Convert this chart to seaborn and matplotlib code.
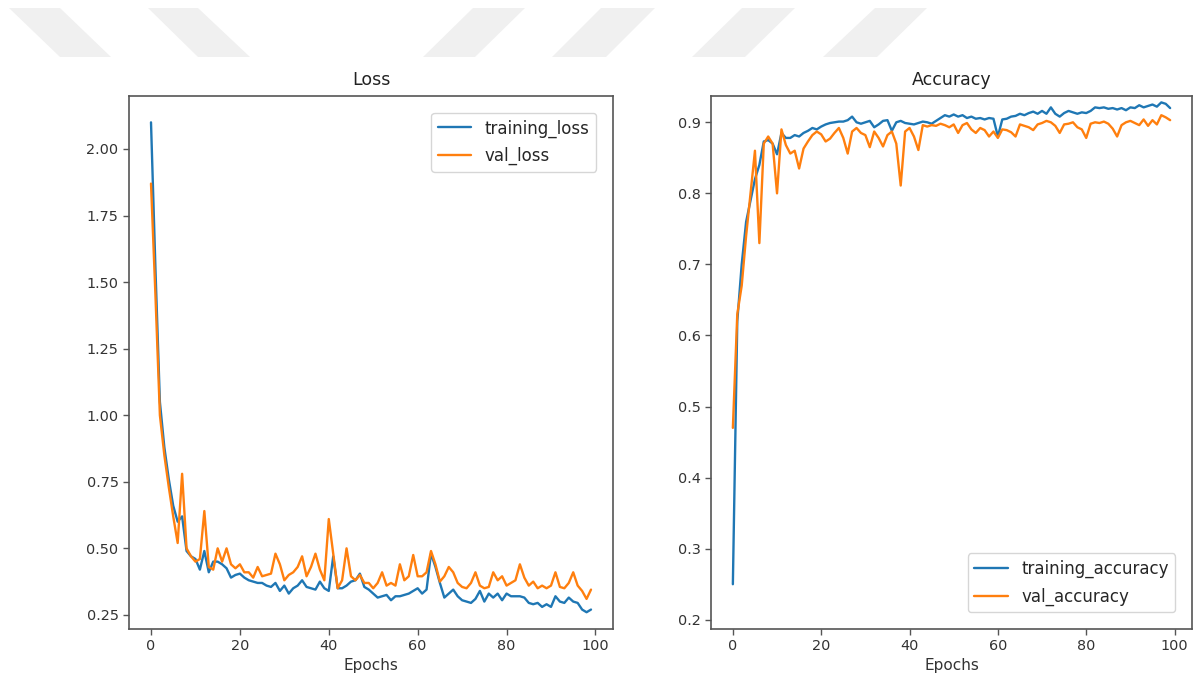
import numpy as np
import pandas as pd
import matplotlib
matplotlib.use("Agg")
import matplotlib.pyplot as plt
from matplotlib.patches import Polygon
import seaborn as sns

epochs = list(range(100))

training_loss = [
    2.10, 1.55, 1.05, 0.88, 0.76, 0.66, 0.60, 0.62, 0.49, 0.47,
    0.46, 0.42, 0.49, 0.41, 0.45, 0.45, 0.44, 0.425, 0.39, 0.40,
    0.405, 0.39, 0.38, 0.375, 0.37, 0.37, 0.36, 0.355, 0.37, 0.34,
    0.36, 0.33, 0.35, 0.36, 0.38, 0.355, 0.35, 0.345, 0.375, 0.35,
    0.34, 0.47, 0.35, 0.35, 0.36, 0.375, 0.38, 0.405, 0.355, 0.345,
    0.33, 0.315, 0.32, 0.325, 0.305, 0.32, 0.32, 0.325, 0.33, 0.34,
    0.35, 0.33, 0.345, 0.48, 0.43, 0.37, 0.315, 0.33, 0.345, 0.32,
    0.305, 0.30, 0.295, 0.31, 0.34, 0.30, 0.33, 0.315, 0.33, 0.305,
    0.33, 0.32, 0.32, 0.32, 0.315, 0.295, 0.29, 0.295, 0.28, 0.29,
    0.28, 0.32, 0.30, 0.295, 0.315, 0.30, 0.295, 0.27, 0.26, 0.27,
]

val_loss = [
    1.87, 1.45, 1.00, 0.85, 0.73, 0.62, 0.52, 0.78, 0.50, 0.47,
    0.45, 0.46, 0.64, 0.43, 0.42, 0.50, 0.45, 0.50, 0.44, 0.425,
    0.44, 0.41, 0.41, 0.39, 0.43, 0.395, 0.40, 0.405, 0.48, 0.44,
    0.38, 0.40, 0.41, 0.43, 0.47, 0.395, 0.43, 0.48, 0.42, 0.38,
    0.61, 0.48, 0.35, 0.38, 0.50, 0.395, 0.38, 0.40, 0.37, 0.37,
    0.35, 0.37, 0.41, 0.36, 0.37, 0.36, 0.44, 0.38, 0.395, 0.475,
    0.395, 0.395, 0.41, 0.49, 0.44, 0.375, 0.395, 0.43, 0.41, 0.37,
    0.355, 0.35, 0.37, 0.41, 0.36, 0.35, 0.355, 0.41, 0.38, 0.395,
    0.36, 0.37, 0.38, 0.44, 0.39, 0.36, 0.375, 0.35, 0.36, 0.35,
    0.36, 0.41, 0.355, 0.35, 0.37, 0.41, 0.36, 0.34, 0.31, 0.345,
]

training_accuracy = [
    0.25, 0.62, 0.70, 0.76, 0.79, 0.82, 0.84, 0.873, 0.875, 0.870,
    0.855, 0.885, 0.878, 0.878, 0.882, 0.880, 0.885, 0.888, 0.892, 0.890,
    0.894, 0.897, 0.899, 0.900, 0.901, 0.901, 0.903, 0.908, 0.900, 0.898,
    0.900, 0.902, 0.893, 0.897, 0.902, 0.903, 0.888, 0.900, 0.902, 0.899,
    0.898, 0.897, 0.899, 0.901, 0.900, 0.898, 0.902, 0.906, 0.910, 0.908,
    0.911, 0.908, 0.910, 0.906, 0.908, 0.905, 0.906, 0.904, 0.906, 0.905,
    0.880, 0.904, 0.905, 0.908, 0.909, 0.912, 0.910, 0.913, 0.915, 0.912,
    0.916, 0.912, 0.921, 0.912, 0.908, 0.913, 0.916, 0.914, 0.912, 0.914,
    0.913, 0.916, 0.921, 0.920, 0.921, 0.919, 0.920, 0.918, 0.920, 0.917,
    0.921, 0.920, 0.924, 0.921, 0.923, 0.925, 0.922, 0.928, 0.926, 0.920,
]

val_accuracy = [
    0.47, 0.63, 0.67, 0.74, 0.80, 0.86, 0.73, 0.87, 0.88, 0.87,
    0.80, 0.89, 0.868, 0.856, 0.86, 0.835, 0.863, 0.873, 0.882, 0.887,
    0.883, 0.873, 0.877, 0.885, 0.892, 0.878, 0.856, 0.887, 0.892, 0.885,
    0.882, 0.865, 0.887, 0.878, 0.866, 0.882, 0.887, 0.870, 0.811, 0.887,
    0.892, 0.880, 0.861, 0.896, 0.894, 0.896, 0.895, 0.898, 0.896, 0.893,
    0.897, 0.885, 0.896, 0.899, 0.890, 0.885, 0.892, 0.889, 0.880, 0.887,
    0.878, 0.890, 0.889, 0.886, 0.880, 0.897, 0.895, 0.893, 0.889, 0.897,
    0.899, 0.902, 0.900, 0.895, 0.885, 0.897, 0.898, 0.900, 0.893, 0.890,
    0.878, 0.898, 0.900, 0.899, 0.901, 0.898, 0.891, 0.880, 0.896, 0.900,
    0.902, 0.899, 0.896, 0.904, 0.895, 0.903, 0.897, 0.910, 0.907, 0.903,
]

loss_ticks = [0.25, 0.50, 0.75, 1.00, 1.25, 1.50, 1.75, 2.00]
acc_ticks = [0.2, 0.3, 0.4, 0.5, 0.6, 0.7, 0.8, 0.9]
epoch_ticks = [0, 20, 40, 60, 80, 100]

sns.set_theme(style="ticks")
plt.rcParams["font.family"] = ["DejaVu Sans"]
plt.rcParams["axes.edgecolor"] = "#555555"
plt.rcParams["xtick.color"] = "#555555"
plt.rcParams["ytick.color"] = "#555555"
plt.rcParams["xtick.labelcolor"] = "#333333"
plt.rcParams["ytick.labelcolor"] = "#333333"

W, H = 1200, 681
fig = plt.figure(figsize=(W / 100, H / 100), dpi=100)
fig.patch.set_facecolor("white")

# faint background watermark stripes
stripes = [
    [(9, 8), (60, 8), (111, 57), (60, 57)],
    [(148, 8), (198, 8), (250, 57), (198, 57)],
    [(473, 8), (525, 8), (475, 57), (423, 57)],
    [(601, 8), (655, 8), (606, 57), (552, 57)],
    [(742, 8), (795, 8), (745, 57), (692, 57)],
    [(875, 8), (927, 8), (877, 57), (823, 57)],
]
for s in stripes:
    pts = [(x / W, 1 - y / H) for x, y in s]
    fig.patches.append(Polygon(pts, closed=True, transform=fig.transFigure,
                               facecolor="#f0f0f0", edgecolor="none", zorder=0))

blue, orange = "#1f77b4", "#ff7f0e"
lw = 1.7

ax1 = fig.add_axes([129 / W, 1 - 629 / H, (613 - 129) / W, (629 - 96) / H])
ax2 = fig.add_axes([711 / W, 1 - 629 / H, (1192 - 711) / W, (629 - 96) / H])

loss_df = pd.DataFrame({"epoch": epochs, "training_loss": training_loss, "val_loss": val_loss})
acc_df = pd.DataFrame({"epoch": epochs, "training_accuracy": training_accuracy, "val_accuracy": val_accuracy})

sns.lineplot(data=loss_df, x="epoch", y="training_loss", ax=ax1, color=blue, lw=lw, label="training_loss")
sns.lineplot(data=loss_df, x="epoch", y="val_loss", ax=ax1, color=orange, lw=lw, label="val_loss")
sns.lineplot(data=acc_df, x="epoch", y="training_accuracy", ax=ax2, color=blue, lw=lw, label="training_accuracy")
sns.lineplot(data=acc_df, x="epoch", y="val_accuracy", ax=ax2, color=orange, lw=lw, label="val_accuracy")

for ax, title in [(ax1, "Loss"), (ax2, "Accuracy")]:
    ax.set_title(title, fontsize=12.5, color="#222222", pad=8)
    ax.set_xlabel("Epochs", fontsize=11, color="#333333", labelpad=3)
    ax.set_ylabel("")
    ax.set_xticks(epoch_ticks)
    ax.set_xlim(-4.95, 103.95)
    ax.tick_params(labelsize=10.4, length=4, width=1)
    for sp in ax.spines.values():
        sp.set_linewidth(1.2)
        sp.set_visible(True)

ax1.set_yticks(loss_ticks)
ax1.set_yticklabels([f"{v:.2f}" for v in loss_ticks])
ax1.set_ylim(0.197, 2.199)
ax2.set_yticks(acc_ticks)
ax2.set_yticklabels([f"{v:.1f}" for v in acc_ticks])
ax2.set_ylim(0.187, 0.937)

ax1.legend(loc="upper right", fontsize=12, frameon=True, fancybox=True,
           borderaxespad=1.0, handlelength=2.0, labelspacing=0.55)
ax2.legend(loc="lower right", fontsize=12, frameon=True, fancybox=True,
           borderaxespad=1.0, handlelength=2.0, labelspacing=0.55)

fig.savefig("out.png", dpi=100)
